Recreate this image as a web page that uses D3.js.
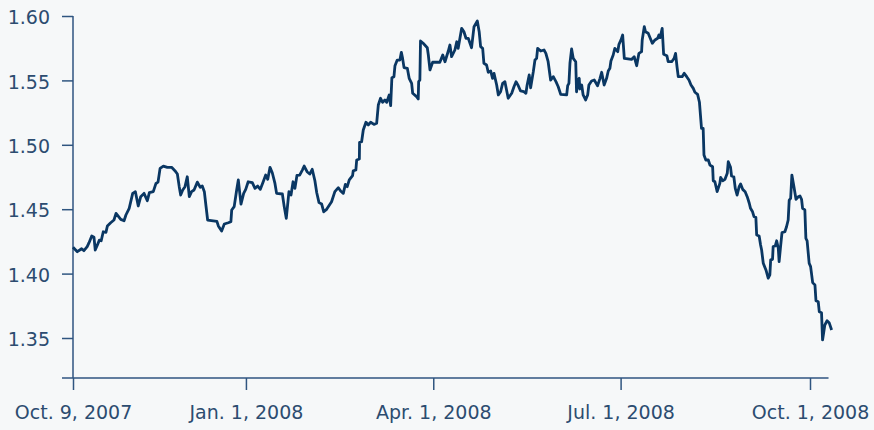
<!DOCTYPE html>
<html>
<head>
<meta charset="utf-8">
<script src="https://cdn.jsdelivr.net/npm/d3@7"></script>
<style>
  html, body { margin: 0; padding: 0; background: #f6f8f9; }
  svg { display: block; }
  .tick text { font-family: "DejaVu Sans", sans-serif; font-size: 19px; fill: #2c4c70; }
</style>
</head>
<body>
<svg width="874" height="430"></svg>
<script>
// days since Oct. 9, 2007 and the matching rate
let dayOffsets = [
  0, 2.1, 4.2, 5.3, 6.9, 7.8, 9.1, 10.2, 10.8, 11.8, 12.8, 13.7, 14.7, 16.0, 16.7, 18.3, 19.9, 20.9, 23.2, 24.8,
  25.7, 27.3, 29.0, 30.3, 31.7, 32.9, 34.5, 36.1, 37.1, 39.0, 40.3, 41.3, 42.3, 43.9, 45.8, 47.9, 49.5, 50.7, 51.6, 52.3,
  53.3, 54.4, 55.5, 56.5, 57.6, 58.8, 60.4, 61.8, 62.8, 63.8, 64.6, 65.4, 68.1, 69.9, 70.6, 72.2, 73.5, 75.4, 76.7, 77.1,
  78.3, 79.5, 80.3, 81.6, 82.9, 83.9, 85.1, 87.1, 88.4, 89.7, 91.0, 92.4, 93.6, 94.6, 95.7, 96.8, 98.1, 98.9, 101.7, 102.6,
  103.6, 104.9, 105.9, 106.9, 107.8, 108.8, 110.1, 111.4, 112.3, 113.7, 115.0, 116.2, 117.5, 118.4, 119.5, 120.8, 121.8, 123.2, 125.6, 127.2,
  128.9, 130.0, 131.3, 132.3, 133.2, 134.2, 135.8, 136.1, 137.4, 137.8, 139.1, 139.2, 140.2, 141.0, 142.3, 143.4, 144.6, 146.2, 147.5, 148.3,
  149.4, 150.4, 151.5, 152.4, 153.6, 154.3, 154.9, 155.9, 156.4, 157.5, 158.8, 159.5, 160.1, 160.8, 162.4, 163.3, 164.5, 165.0, 166.9, 167.7,
  167.9, 168.5, 168.8, 170.1, 172.1, 172.6, 173.4, 174.7, 178.2, 179.6, 180.7, 182.3, 183.1, 183.9, 185.5, 186.4, 187.1, 188.8, 189.9, 190.9,
  192.0, 193.6, 194.8, 196.4, 197.3, 198.0, 199.0, 199.6, 200.9, 201.7, 202.9, 203.8, 204.5, 205.8, 206.6, 207.7, 208.7, 209.8, 210.6, 211.4,
  213.1, 214.2, 215.2, 216.3, 217.4, 219.0, 220.0, 220.6, 221.6, 222.3, 223.6, 224.4, 225.2, 225.7, 227.2, 228.8, 229.7, 230.8, 232.0, 233.3,
  234.6, 235.7, 236.9, 239.8, 240.3, 240.9, 241.4, 242.2, 243.0, 244.2, 244.6, 245.4, 245.9, 246.2, 247.1, 247.8, 249.0, 250.0, 250.6, 251.9,
  253.2, 254.8, 256.0, 256.8, 258.0, 259.2, 260.0, 260.8, 261.3, 262.4, 263.2, 264.6, 265.2, 266.2, 267.0, 267.8, 271.3, 272.6, 273.8, 274.9,
  276.2, 276.5, 277.5, 278.1, 279.4, 281.4, 282.7, 284.0, 284.6, 285.2, 286.2, 286.9, 288.5, 289.1, 290.8, 292.0, 292.7, 293.4, 294.0, 295.9,
  296.9, 298.1, 299.2, 300.2, 301.3, 302.1, 303.4, 304.3, 305.3, 306.1, 306.5, 307.4, 308.6, 309.4, 310.7, 311.0, 311.8, 312.9, 314.2, 314.6,
  315.6, 316.7, 317.8, 318.3, 319.4, 319.9, 321.0, 321.7, 322.6, 323.6, 324.3, 325.3, 326.5, 327.5, 328.5, 329.1, 330.1, 330.8, 331.7, 332.1,
  333.3, 334.0, 334.5, 335.3, 336.6, 337.7, 338.5, 338.9, 339.8, 340.1, 341.1, 341.8, 342.6, 343.0, 343.7, 344.4, 345.8, 346.6, 347.4, 347.9,
  348.6, 349.2, 350.2, 351.2, 352.3, 353.1, 353.9, 354.4, 355.5, 356.0, 356.6, 357.6, 358.3, 359.3, 360.4, 360.9, 362.0, 362.5, 363.6, 364.1,
  365.2, 366.3, 367.3, 368.5
];
let rates = [
  1.4204, 1.4170, 1.4193, 1.4178, 1.4209, 1.4240, 1.4292, 1.4282, 1.4183, 1.4220, 1.4260, 1.4255, 1.4325, 1.4320, 1.4370, 1.4395, 1.4416, 1.4468, 1.4421, 1.4410,
  1.4455, 1.4507, 1.4623, 1.4636, 1.4525, 1.4597, 1.4623, 1.4566, 1.4628, 1.4636, 1.4700, 1.4710, 1.4817, 1.4835, 1.4825, 1.4825, 1.4799, 1.4773, 1.4675, 1.4610,
  1.4649, 1.4675, 1.4752, 1.4597, 1.4636, 1.4649, 1.4710, 1.4670, 1.4680, 1.4636, 1.4525, 1.4416, 1.4410, 1.4406, 1.4370, 1.4331, 1.4385, 1.4395, 1.4403, 1.4494,
  1.4520, 1.4649, 1.4727, 1.4540, 1.4623, 1.4654, 1.4713, 1.4706, 1.4662, 1.4680, 1.4654, 1.4713, 1.4765, 1.4732, 1.4825, 1.4783, 1.4700, 1.4623, 1.4618, 1.4520,
  1.4429, 1.4636, 1.4610, 1.4713, 1.4662, 1.4763, 1.4765, 1.4804, 1.4835, 1.4791, 1.4773, 1.4810, 1.4721, 1.4628, 1.4551, 1.4540, 1.4480, 1.4499, 1.4558, 1.4636,
  1.4667, 1.4641, 1.4623, 1.4693, 1.4675, 1.4727, 1.4760, 1.4797, 1.4804, 1.4882, 1.4890, 1.5019, 1.5024, 1.5115, 1.5175, 1.5154, 1.5175, 1.5159, 1.5167, 1.5309,
  1.5361, 1.5330, 1.5348, 1.5330, 1.5387, 1.5304, 1.5521, 1.5529, 1.5614, 1.5658, 1.5658, 1.5718, 1.5671, 1.5599, 1.5594, 1.5516, 1.5477, 1.5400, 1.5374, 1.5356,
  1.5490, 1.5503, 1.5806, 1.5788, 1.5754, 1.5697, 1.5581, 1.5641, 1.5641, 1.5697, 1.5645, 1.5728, 1.5775, 1.5684, 1.5736, 1.5800, 1.5749, 1.5904, 1.5878, 1.5827,
  1.5827, 1.5754, 1.5917, 1.5961, 1.5878, 1.5762, 1.5749, 1.5633, 1.5620, 1.5563, 1.5573, 1.5516, 1.5555, 1.5464, 1.5387, 1.5412, 1.5477, 1.5490, 1.5425, 1.5361,
  1.5400, 1.5451, 1.5490, 1.5459, 1.5418, 1.5412, 1.5400, 1.5464, 1.5542, 1.5443, 1.5568, 1.5658, 1.5671, 1.5749, 1.5728, 1.5736, 1.5710, 1.5645, 1.5503, 1.5529,
  1.5490, 1.5451, 1.5392, 1.5387, 1.5459, 1.5477, 1.5633, 1.5744, 1.5671, 1.5645, 1.5412, 1.5503, 1.5516, 1.5433, 1.5464, 1.5387, 1.5348, 1.5387, 1.5464, 1.5495,
  1.5503, 1.5459, 1.5516, 1.5563, 1.5464, 1.5516, 1.5573, 1.5594, 1.5651, 1.5697, 1.5749, 1.5723, 1.5780, 1.5814, 1.5852, 1.5671, 1.5663, 1.5684, 1.5614, 1.5710,
  1.5723, 1.5814, 1.5917, 1.5878, 1.5866, 1.5788, 1.5814, 1.5827, 1.5852, 1.5832, 1.5904, 1.5703, 1.5692, 1.5645, 1.5645, 1.5671, 1.5710, 1.5606, 1.5529, 1.5529,
  1.5555, 1.5529, 1.5503, 1.5464, 1.5438, 1.5408, 1.5392, 1.5330, 1.5128, 1.5128, 1.4921, 1.4882, 1.4882, 1.4843, 1.4830, 1.4721, 1.4713, 1.4636, 1.4700, 1.4747,
  1.4721, 1.4732, 1.4779, 1.4869, 1.4825, 1.4758, 1.4752, 1.4662, 1.4610, 1.4675, 1.4696, 1.4654, 1.4636, 1.4597, 1.4546, 1.4507, 1.4480, 1.4442, 1.4437, 1.4300,
  1.4292, 1.4222, 1.4183, 1.4080, 1.4028, 1.3964, 1.3990, 1.4106, 1.4111, 1.4209, 1.4214, 1.4255, 1.4196, 1.4093, 1.4209, 1.4318, 1.4325, 1.4364, 1.4416, 1.4571,
  1.4584, 1.4765, 1.4675, 1.4577, 1.4597, 1.4603, 1.4577, 1.4507, 1.4494, 1.4274, 1.4255, 1.4080, 1.4054, 1.3930, 1.3912, 1.3790, 1.3782, 1.3704, 1.3696, 1.3485,
  1.3601, 1.3634, 1.3619, 1.3562
];
let yTicks = [1.35, 1.40, 1.45, 1.50, 1.55, 1.60];
let xTickDates = ["2007-10-09", "2008-01-01", "2008-04-01", "2008-07-01", "2008-10-01"];
let xTickLabels = ["Oct. 9, 2007", "Jan. 1, 2008", "Apr. 1, 2008", "Jul. 1, 2008", "Oct. 1, 2008"];

let svg = d3.select("svg");
let axisColor = "#2f5580";
let lineColor = "#0a3763";

let start = new Date(2007, 9, 9);
let parse = d3.timeParse("%Y-%m-%d");
let data = dayOffsets.map((d, i) => ({ date: new Date(start.getTime() + d * 864e5), value: rates[i] }));

let x = d3.scaleTime()
    .domain([start, new Date(2008, 9, 1)])
    .range([73, 810]);
let y = d3.scaleLinear()
    .domain([1.35, 1.60])
    .range([338, 16]);
let yBottom = 378;
let xEnd = x(new Date(2008, 9, 10));

// y axis
let yAxis = svg.append("g")
    .attr("transform", "translate(73,0)")
    .call(d3.axisLeft(y).tickValues(yTicks).tickFormat(d3.format(".2f")).tickSize(11).tickPadding(12).tickSizeOuter(0));
yAxis.select(".domain").remove();
yAxis.selectAll(".tick line").attr("stroke", axisColor).attr("stroke-width", 1.5);
yAxis.selectAll(".tick text").attr("dy", "0.4em");
svg.append("line")
    .attr("x1", 73).attr("x2", 73).attr("y1", y(1.60)).attr("y2", yBottom)
    .attr("stroke", axisColor).attr("stroke-width", 1.5);

// x axis
let xAxis = svg.append("g")
    .attr("transform", `translate(0,${yBottom})`)
    .call(d3.axisBottom(x).tickValues(xTickDates.map(parse))
        .tickFormat((d, i) => xTickLabels[i]).tickSize(12).tickPadding(16).tickSizeOuter(0));
xAxis.select(".domain").remove();
xAxis.selectAll(".tick line").attr("stroke", axisColor).attr("stroke-width", 1.5);
svg.append("line")
    .attr("x1", 62).attr("x2", xEnd).attr("y1", yBottom).attr("y2", yBottom)
    .attr("stroke", axisColor).attr("stroke-width", 1.5);

// rate line
let line = d3.line()
    .x(d => x(d.date))
    .y(d => y(d.value));
svg.append("path")
    .datum(data)
    .attr("fill", "none")
    .attr("stroke", lineColor)
    .attr("stroke-width", 2.8)
    .attr("stroke-linejoin", "round")
    .attr("d", line);
</script>
</body>
</html>
